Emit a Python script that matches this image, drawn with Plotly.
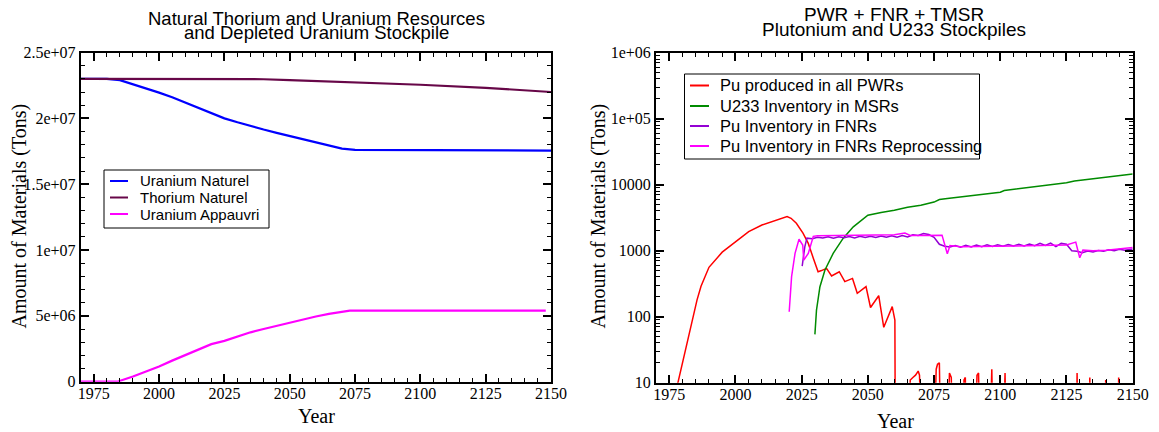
import plotly.graph_objects as go

# ---------------- Left panel data ----------------
un_years = [1970, 1980, 1985, 1990, 1995, 2000, 2005, 2010, 2015, 2020, 2025, 2030, 2035, 2040,
            2045, 2050, 2055, 2060, 2065, 2070, 2075, 2100, 2125, 2148, 2150]
un_vals = [2.3e7, 2.3e7, 2.29e7, 2.26e7, 2.23e7, 2.195e7, 2.16e7, 2.12e7, 2.08e7, 2.04e7, 2.0e7,
           1.97e7, 1.94e7, 1.915e7, 1.89e7, 1.865e7, 1.84e7, 1.815e7, 1.79e7, 1.77e7, 1.76e7,
           1.76e7, 1.76e7, 1.76e7, 1.755e7]

th_years = [1970, 2000, 2030, 2040, 2050, 2075, 2100, 2125, 2150]
th_vals = [2.3e7, 2.3e7, 2.3e7, 2.297e7, 2.29e7, 2.275e7, 2.255e7, 2.232e7, 2.2e7]

ua_years = [1970, 1984, 1990, 1995, 2000, 2005, 2010, 2015, 2020, 2025, 2030, 2035, 2040, 2045,
            2050, 2055, 2060, 2065, 2070, 2073, 2100, 2148]
ua_vals = [0, 0, 4.0e5, 7.5e5, 1.15e6, 1.6e6, 2.0e6, 2.4e6, 2.85e6, 3.1e6, 3.45e6, 3.75e6, 4.0e6,
           4.25e6, 4.5e6, 4.75e6, 4.95e6, 5.15e6, 5.3e6, 5.4e6, 5.4e6, 5.4e6]

# ---------------- Right panel data ----------------
pwr_years = [1977, 1980, 1982, 1984, 1985.5, 1987, 1990, 1995, 2000, 2005, 2010, 2015, 2019.5,
             2021, 2023, 2025.5, 2027.5, 2029.4, 2031.2, 2032.5, 2034.4, 2036.3, 2039.2, 2041.3,
             2044.2, 2046.0, 2049.3, 2051.0, 2054.1, 2056.0, 2059.2, 2060.2, 2060.4,
             2065.5, 2066, 2067, 2068, 2069, 2069.5, 2070.3,
             2075, 2075.8, 2076.3, 2077, 2077.5,
             2080, 2080.8, 2081.5, 2082,
             2085.7, 2086.3, 2086.8, 2087.2,
             2090.5, 2091.2, 2091.8, 2092.3,
             2096, 2096.8, 2097.3,
             2101, 2101.8, 2102.3,
             2128.7, 2129, 2129.4,
             2133.5, 2133.8, 2134.1,
             2139.5, 2139.8, 2140.1,
             2144.4, 2144.7, 2145, 2150]
pwr_vals = [6, 20, 45, 95, 180, 290, 560, 950, 1350, 1950, 2450, 2900, 3300,
            3100, 2600, 1850, 1290, 770, 480, 500, 540, 415, 480, 340,
            380, 226, 285, 138, 208, 69, 142, 89, 0.5,
            1, 11, 12, 13, 15, 13, 1,
            1, 16, 19, 20, 1,
            1, 14, 12, 1,
            1, 11, 12, 1,
            1, 13, 14, 1,
            1, 16, 1,
            1, 14, 1,
            1, 14, 1,
            1, 12, 1,
            1, 11, 1,
            1, 12, 1, 1]

u233_years = [2030.0, 2030.6, 2031.9, 2033.8, 2036.9, 2040.7, 2044.5, 2050.0, 2055, 2060, 2065,
              2070, 2075, 2077, 2080, 2090, 2100, 2101.5, 2110, 2120, 2125, 2128, 2140, 2150]
u233_vals = [54, 126, 285, 510, 910, 1550, 2300, 3450, 3800, 4100, 4550, 4900, 5450, 5950, 6200,
             6900, 7700, 8150, 9000, 10000, 10700, 11400, 13000, 14500]

fnr_years = [2025.2, 2026.2, 2027, 2029, 2031, 2033, 2035, 2037, 2039, 2041, 2043, 2045, 2047,
             2049, 2051, 2053, 2055, 2057, 2059, 2061, 2063, 2065, 2067, 2069, 2071, 2073, 2075,
             2077, 2079, 2081, 2083, 2085, 2087, 2089, 2091, 2093, 2095, 2097, 2099, 2101, 2103,
             2105, 2107, 2109, 2111, 2113, 2115, 2117, 2119, 2121, 2123, 2125, 2127, 2129, 2131,
             2133, 2135, 2137, 2139, 2141, 2143, 2145, 2147, 2150]
fnr_vals = [585, 1150, 1550, 1520, 1600, 1560, 1620, 1550, 1630, 1570, 1640, 1560, 1650,
            1590, 1660, 1590, 1670, 1600, 1680, 1600, 1700, 1620, 1740, 1700, 1820, 1760, 1600,
            1250, 1170, 1140, 1200, 1130, 1210, 1140, 1220, 1150, 1230, 1160, 1230, 1170, 1240,
            1180, 1250, 1180, 1260, 1190, 1290, 1200, 1300, 1150, 1290, 1250, 1000, 980, 930,
            990, 960, 1010, 980, 1030, 1000, 1050, 1020, 1060]

rep_years = [2020.3, 2021.2, 2022.5, 2024.0, 2025.4, 2025.8, 2027.5, 2029.4, 2031, 2035, 2040,
             2045, 2050, 2055, 2060, 2064, 2066, 2070, 2074, 2078, 2080, 2081, 2085, 2090, 2095,
             2100, 2105, 2110, 2115, 2120, 2125, 2128.5, 2130, 2131.2, 2135, 2140, 2145, 2150]
rep_vals = [119, 405, 910, 1490, 1220, 720, 910, 1650, 1680, 1690, 1700,
            1700, 1720, 1720, 1740, 1850, 1700, 1700, 1720, 1720, 900, 1200, 1150, 1150, 1160,
            1170, 1180, 1190, 1200, 1200, 1220, 1350, 780, 1020, 1000, 1020, 1060, 1120]

x_ticks = [1975, 2000, 2025, 2050, 2075, 2100, 2125, 2150]
left_y_ticks = [0, 5e6, 1e7, 1.5e7, 2e7, 2.5e7]
left_y_text = ["0", "5e+06", "1e+07", "1.5e+07", "2e+07", "2.5e+07"]
right_y_ticks = [10, 100, 1000, 10000, 1e5, 1e6]
right_y_text = ["10", "100", "1000", "10000", "1e+05", "1e+06"]

left_names = ["Uranium Naturel", "Thorium Naturel", "Uranium Appauvri"]
left_colors = ["#0000ff", "#670748", "#ff00ff"]
right_names = ["Pu produced in all PWRs", "U233 Inventory in MSRs", "Pu Inventory in FNRs",
               "Pu Inventory in FNRs Reprocessing"]
right_colors = ["#ff0000", "#008b00", "#9400d3", "#ff00ff"]

W, H = 1159, 432
SERIF = "Liberation Serif"
SANS = "Liberation Sans"

fig = go.Figure()

left_data = [(un_years, un_vals), (th_years, th_vals), (ua_years, ua_vals)]
for (xs, ys), nm, col in zip(left_data, left_names, left_colors):
    fig.add_trace(go.Scatter(x=xs, y=ys, mode="lines", name=nm, showlegend=False,
                             line=dict(color=col, width=2.2), xaxis="x", yaxis="y"))

right_data = [(pwr_years, pwr_vals), (u233_years, u233_vals), (fnr_years, fnr_vals),
              (rep_years, rep_vals)]
for (xs, ys), nm, col in zip(right_data, right_names, right_colors):
    fig.add_trace(go.Scatter(x=xs, y=ys, mode="lines", name=nm, showlegend=False,
                             line=dict(color=col, width=1.5), xaxis="x2", yaxis="y2"))


def px_x(p):
    return p / W


def px_y(p):
    return 1 - p / H


common_axis = dict(showline=True, linecolor="black", linewidth=2, mirror="ticks",
                   ticks="inside", ticklen=8, tickwidth=1.5, tickcolor="black",
                   showgrid=False, zeroline=False, automargin=False,
                   tickfont=dict(family=SERIF, size=16, color="black"))

xaxis_common = dict(common_axis, range=[1970, 2150], tickmode="array", tickvals=x_ticks,
                    ticklabelstandoff=-4,
                    minor=dict(tickmode="linear", tick0=1970, dtick=5, ticks="inside",
                               ticklen=4, tickwidth=1, tickcolor="black", showgrid=False))

fig.update_layout(
    width=W, height=H,
    margin=dict(l=0, r=0, t=0, b=0, autoexpand=False),
    paper_bgcolor="white", plot_bgcolor="white",
    showlegend=False,
    xaxis=dict(xaxis_common, domain=[px_x(80.7), px_x(551)], anchor="y"),
    yaxis=dict(common_axis, domain=[px_y(381.7), px_y(52.5)], anchor="x",
               range=[0, 2.5e7], tickmode="array", tickvals=left_y_ticks, ticktext=left_y_text,
               minor=dict(tickmode="linear", tick0=0, dtick=1e6, ticks="inside",
                          ticklen=4, tickwidth=1, tickcolor="black", showgrid=False)),
    xaxis2=dict(xaxis_common, domain=[px_x(656), px_x(1132.7)], anchor="y2"),
    yaxis2=dict(common_axis, domain=[px_y(382.7), px_y(52.7)], anchor="x2",
                type="log", range=[1, 6], tickmode="array", tickvals=right_y_ticks,
                ticktext=right_y_text,
                minor=dict(dtick="D1", ticks="inside", ticklen=4, tickwidth=1,
                           tickcolor="black", showgrid=False)),
)

# ---- titles and axis titles ----
annots = [
    dict(text="Natural Thorium and Uranium Resources", x=316, y=18.5, size=18.5, fam=SANS),
    dict(text="and Depleted Uranium Stockpile", x=316, y=32.8, size=18.5, fam=SANS),
    dict(text="PWR + FNR + TMSR", x=894, y=14.5, size=19, fam=SANS),
    dict(text="Plutonium and U233 Stockpiles", x=894, y=29.5, size=19, fam=SANS),
    dict(text="Year", x=316, y=416, size=20, fam=SERIF),
    dict(text="Year", x=895, y=421, size=20, fam=SERIF),
]
for a in annots:
    fig.add_annotation(text=a["text"], x=px_x(a["x"]), y=px_y(a["y"]), xref="paper", yref="paper",
                       xanchor="center", yanchor="middle", showarrow=False,
                       font=dict(family=a["fam"], size=a["size"], color="black"))

for xc in (18.5, 597.5):
    fig.add_annotation(text="Amount of Materials (Tons)", x=px_x(xc), y=px_y(216),
                       xref="paper", yref="paper", xanchor="center", yanchor="middle",
                       textangle=-90, showarrow=False,
                       font=dict(family=SERIF, size=20, color="black"))


# ---- legends (boxed, Grace style) ----
def draw_legend(box, rows_y, line_x, text_x, names, colors, fsize):
    x0, y0, x1, y1 = box
    fig.add_shape(type="rect", xref="paper", yref="paper",
                  x0=px_x(x0), x1=px_x(x1), y0=px_y(y1), y1=px_y(y0),
                  line=dict(color="black", width=1), fillcolor="white", layer="above")
    for ry, nm, col in zip(rows_y, names, colors):
        fig.add_shape(type="line", xref="paper", yref="paper",
                      x0=px_x(line_x[0]), x1=px_x(line_x[1]), y0=px_y(ry), y1=px_y(ry),
                      line=dict(color=col, width=2), layer="above")
        fig.add_annotation(text=nm, x=px_x(text_x), y=px_y(ry), xref="paper", yref="paper",
                           xanchor="left", yanchor="middle", showarrow=False,
                           font=dict(family=SANS, size=fsize, color="black"))


draw_legend((104, 170, 269, 228), [181, 197.5, 214], (110, 128), 138, left_names, left_colors, 15)
draw_legend((684.5, 74, 979.5, 159), [85.5, 106, 126, 146], (690, 709), 718, right_names,
            right_colors, 16.5)

fig.write_html("out.html", config={"displayModeBar": False},
               post_script="document.body.style.margin='0px';document.body.style.overflow='hidden';")
